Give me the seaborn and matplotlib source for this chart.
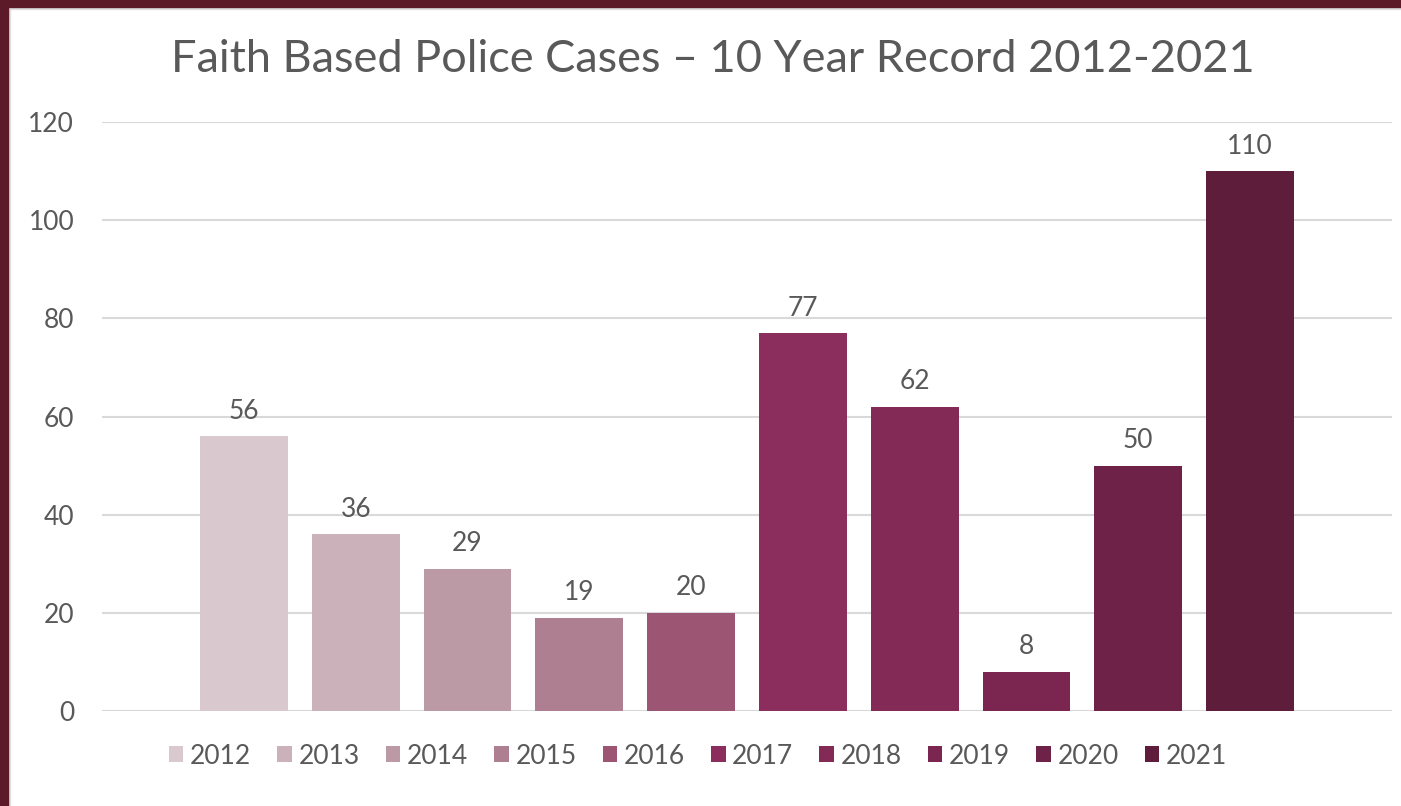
import matplotlib
matplotlib.use("Agg")
import matplotlib.pyplot as plt
import seaborn as sns
import pandas as pd
from matplotlib.patches import Rectangle

years = ["2012", "2013", "2014", "2015", "2016", "2017", "2018", "2019", "2020", "2021"]
cases = [56, 36, 29, 19, 20, 77, 62, 8, 50, 110]
colors = ["#d9c9ce", "#cbb2ba", "#bc9aa5", "#ae7f90", "#9c5674",
          "#8b2d5d", "#832a57", "#7a2650", "#6e2248", "#5f1d3c"]
title = "Faith Based Police Cases \u2013 10 Year Record 2012-2021"
yticks = [0, 20, 40, 60, 80, 100, 120]

sns.set_theme(style="white")
plt.rcParams["font.family"] = ["Lato", "DejaVu Sans"]
TXT = "#595959"

W, H = 1401, 806
fig = plt.figure(figsize=(W / 100, H / 100), dpi=100)
ax = fig.add_axes([102 / W, 1 - 711 / H, (1392 - 102) / W, (711 - 122) / H])

df = pd.DataFrame({"year": years, "cases": cases})
sns.barplot(data=df, x="year", y="cases", hue="year", palette=dict(zip(years, colors)),
            width=0.786, dodge=False, ax=ax, legend=True, saturation=1, linewidth=0)

ax.set_xlim(-1.27, 10.27)
ax.set_ylim(0, 120)
ax.set_yticks(yticks)
ax.set_yticklabels([str(v) for v in yticks], fontsize=19, color=TXT)
ax.tick_params(axis="y", length=0, pad=20)
ax.set_xticks([])
ax.set_xlabel("")
ax.set_ylabel("")
for s in ax.spines.values():
    s.set_visible(False)
ax.grid(axis="y", color="#d9d9d9", linewidth=1.5)
ax.set_axisbelow(True)

for c in ax.containers:
    ax.bar_label(c, fontsize=19, color=TXT, padding=9)

handles, labels = ax.get_legend_handles_labels()
if ax.legend_:
    ax.legend_.remove()
fig.legend(handles, labels, loc="center", bbox_to_anchor=(698 / W, 1 - 756 / H), ncol=10,
           frameon=False, fontsize=19, labelcolor=TXT, handlelength=0.55, handleheight=0.55,
           handletextpad=0.25, columnspacing=0.99, borderpad=0)

fig.text(713 / W, 1 - 60 / H, title, ha="center", va="center", fontsize=32.5, color=TXT)

# slide border
fig.patches.append(Rectangle((0, 0), 8 / W, 1, transform=fig.transFigure, color="#5c1a28", zorder=10))
fig.patches.append(Rectangle((0, 1 - 7 / H), 1, 7 / H, transform=fig.transFigure, color="#5c1a28", zorder=10))
fig.patches.append(Rectangle((8 / W, 0), 2 / W, 1 - 7 / H, transform=fig.transFigure, color="#e0e0e0", zorder=9))
fig.patches.append(Rectangle((8 / W, 1 - 9 / H), 1, 2 / H, transform=fig.transFigure, color="#e0e0e0", zorder=9))

fig.savefig("out.png", dpi=100)
